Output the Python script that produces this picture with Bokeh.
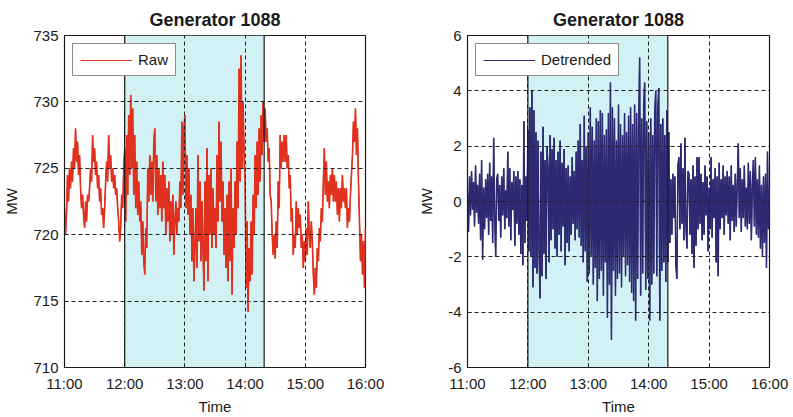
from bokeh.plotting import figure
from bokeh.layouts import row
from bokeh.models import Range1d, FixedTicker, Span, Legend, LegendItem
from bokeh.embed import file_html
from bokeh.resources import INLINE

# ---------------- data ----------------
title_text = "Generator 1088"
minutes = list(range(0, 301))          # minutes after 11:00, one sample per minute
tick_minutes = [0, 60, 120, 180, 240, 300]
tick_labels = ["11:00", "12:00", "13:00", "14:00", "15:00", "16:00"]
shade_start = 60                        # 12:00
shade_end = 199                         # ~14:19

raw_mw = [
    722, 720, 721.5, 724.5, 722.5, 725, 723.5, 725.5, 724, 726.5,
    725, 728, 725.5, 727, 724.5, 726, 723.5, 722, 723, 721.5,
    720.5, 722.5, 721, 723, 722.5, 723.5, 725, 724, 727.5, 725.5,
    726.5, 724.5, 725.5, 723.5, 724.5, 722.5, 723.5, 721.5, 722, 720.5,
    722, 724, 725.5, 724, 727.5, 725, 726, 724, 725, 723.5,
    724.5, 723, 723.5, 722, 721, 719.5, 720.5, 723, 722, 725,
    726.5, 721, 727.5, 723, 729, 724.5, 730.5, 725, 729.5, 723,
    727.5, 722, 725.5, 721.5, 724, 721, 722.5, 718.5, 721, 718,
    717, 720.5, 719, 725, 722.5, 726, 723, 725.5, 722.5, 727,
    728, 722.5, 726, 721.5, 725, 722, 724.5, 721, 725.5, 722,
    724.5, 720, 723.5, 721, 724, 719.5, 722.5, 720, 723, 718.5,
    721, 722.5, 720, 722, 721, 724, 722, 728.5, 723, 728,
    729, 722, 726, 721.5, 725, 720, 723, 718, 722, 716.5,
    719, 722, 717.5, 726, 719.5, 724, 718, 722.5, 719, 715.8,
    724, 718, 726.5, 716.5, 724.5, 720, 725, 719, 723.5, 720,
    722, 719, 726, 721, 728.5, 722.5, 727, 721, 724, 718.5,
    722, 717.5, 723, 716.5, 724, 718, 725, 715.5, 722, 719,
    724, 720, 727, 722, 732.5, 724, 733.5, 725, 730, 726,
    724, 716, 721, 714.2, 719, 716.5, 721, 717, 723, 720,
    726, 722, 727, 723, 728, 724, 729, 726, 730, 727,
    729.5, 727, 728, 725.5, 726.5, 723, 722.5, 720, 718.5, 720,
    718.2, 721, 719, 724, 722, 727.5, 725, 727, 725.5, 727.5,
    725.5, 727.5, 725, 726, 723.5, 724.5, 721, 722, 718.5, 720,
    719, 722.5, 720, 722, 720.5, 721.5, 719, 720, 717.5, 719.5,
    718, 720.5, 718.5, 722.5, 720, 719, 721, 719.5, 717, 715.5,
    717.5, 716, 719, 718, 720.5, 719.5, 722, 721, 724, 726.5,
    723, 725.5, 722.5, 724, 722, 724.5, 723, 725, 722.5, 724.5,
    722.5, 724, 721.5, 723.5, 721, 723.5, 722, 724.5, 722.5, 723.5,
    722, 723.5, 720.5, 722, 721, 723, 724.5, 726, 728.5, 727,
    729.5, 726, 728, 724, 721, 718, 720, 717, 719.5, 716, 720.5,
]

detrended_mw = [
    0.3, -1.1, 0.9, -0.5, 1.1, -0.3, 0.7, -0.9, 1.3, -0.4,
    0.6, -0.8, 1.0, -1.4, 1.5, -2.1, 0.5, -1.0, 0.8, -0.6,
    1.0, -1.2, 1.4, -0.7, 0.9, -1.5, 2.3, -0.5, -2.0, 0.8,
    1.0, -0.7, 0.6, -1.3, 0.9, -0.5, 1.2, -1.0, 0.4, -0.6,
    1.8, -0.9, 1.2, -1.4, 0.7, -0.3, 1.1, -1.6, 0.9, -0.8,
    1.1, -1.2, 0.8, -1.9, 0.6, -2.3, 2.9, -1.5, 0.9, -0.7,
    2.6, -1.8, 3.4, -2.0, 4.0, -3.1, 3.3, -2.4, 2.5, -2.6,
    2.2, -1.6, -3.5, 1.8, -2.7, 2.7, -1.9, 1.5, -2.8, 2.0,
    1.2, -2.2, 2.4, -1.4, 1.9, -1.0, 2.3, -1.7, 1.5, -2.0,
    1.8, -1.2, 2.2, -1.8, 1.4, -0.9, 1.9, -2.3, 1.2, -1.5,
    1.3, -1.8, 0.9, -1.2, 1.6, -0.8, 1.1, -1.4, 1.8, -1.0,
    2.2, -1.3, 2.8, -1.6, 1.5, -2.2, 3.1, -1.8, 2.0, -2.9,
    2.5, -2.6, 3.4, -2.0, 2.7, -3.0, 2.2, -2.4, 3.0, -3.6,
    2.9, -2.8, 3.3, -2.5, 3.2, -3.4, 2.4, -2.2, 2.6, -4.2,
    3.2, -3.0, 4.3, -5.0, 3.4, -2.5, 3.0, -3.4, 2.2, -2.8,
    3.5, -2.6, 2.8, -3.1, 2.4, -2.0, 3.2, -2.7, 2.5, -2.3,
    3.1, -2.9, 3.4, -3.3, 2.8, -3.6, 3.5, -4.3, 3.2, -2.8,
    2.6, 5.2, -3.4, 3.0, -2.6, 3.5, 4.3, -3.2, 2.9, -2.8,
    2.5, -4.3, 3.0, -3.0, 2.4, -2.6, 3.2, 4.0, -2.7, 3.3,
    4.1, -4.3, 2.8, -2.5, 3.0, -2.2, 2.4, -2.9, 3.3, -2.2,
    2.5, -1.5, 0.8, -1.2, 1.0, -0.6, 0.9, -2.3, -2.8, 1.3,
    1.6, -1.0, 2.1, -0.8, 1.2, -1.4, 2.3, -0.9, -1.7, 1.1,
    1.0, -1.2, 0.8, -1.9, 1.3, -2.4, 0.9, -1.6, 1.6, -1.0,
    1.6, -0.8, 1.0, -1.4, 0.7, -1.2, 1.3, -0.5, 0.9, -1.8,
    0.5, -1.0, 1.6, -1.3, 0.8, -0.6, 1.2, -2.2, 0.9, -2.7,
    1.4, -1.0, 0.8, -0.6, 1.3, -1.2, 0.9, -0.5, 1.1, -0.8,
    0.9, -1.4, 1.3, -0.7, 0.6, -1.1, 1.0, -0.9, 0.7, 2.1,
    -0.6, 1.2, -1.1, 0.8, -0.6, 1.3, -0.9, 0.5, -1.0, 1.4,
    -0.8, 1.1, -1.4, 0.6, 1.5, -0.9, 1.6, -1.2, 0.8, -1.3,
    1.3, -1.7, 0.6, -2.0, 0.9, -1.5, 1.0, -2.4, 1.8, -1.0, 0.5,
]

raw_yticks = [710, 715, 720, 725, 730, 735]
det_yticks = [-6, -4, -2, 0, 2, 4, 6]

FONT = "Liberation Sans"
SHADE = "#d2f1f4"
INK = "#1a1a1a"


def make_panel(yvals, yrange, yticks, color, lw, label, width, left, right):
    p = figure(width=width, height=417, output_backend="svg", toolbar_location=None,
               x_range=Range1d(0, 300), y_range=Range1d(*yrange),
               min_border_left=left, min_border_right=right,
               min_border_top=35, min_border_bottom=50,
               title=title_text)
    p.title.text_font = FONT
    p.title.text_font_size = "18px"
    p.title.text_font_style = "bold"
    p.title.align = "center"
    p.title.text_color = INK
    p.title.standoff = 12

    p.background_fill_color = "white"
    p.border_fill_color = "white"
    p.outline_line_color = INK
    p.outline_line_width = 1.2

    # shaded interval 12:00 .. ~14:19
    p.quad(left=[shade_start], right=[shade_end], bottom=[yrange[0]], top=[yrange[1]],
           fill_color=SHADE, line_color=None, level="underlay")

    # thin copy of the series used as the legend sample (hidden under the main trace)
    key = p.line(minutes, yvals, line_color=color, line_width=1.0)
    p.line(minutes, yvals, line_color=color, line_width=lw)

    for loc in (shade_start, shade_end):
        p.add_layout(Span(location=loc, dimension="height", line_color=INK,
                          line_width=1.2, level="overlay"))

    p.xaxis.ticker = FixedTicker(ticks=tick_minutes)
    p.xaxis.major_label_overrides = {m: s for m, s in zip(tick_minutes, tick_labels)}
    p.yaxis.ticker = FixedTicker(ticks=yticks)
    p.yaxis.major_label_overrides = {t: str(t) for t in yticks}

    for ax in (p.xaxis[0], p.yaxis[0]):
        ax.axis_line_color = INK
        ax.major_tick_line_color = INK
        ax.major_tick_in = 4
        ax.major_tick_out = 0
        ax.minor_tick_line_color = None
        ax.major_label_text_font = FONT
        ax.major_label_text_font_size = "15px"
        ax.major_label_text_color = INK
        ax.axis_label_text_font = FONT
        ax.axis_label_text_font_size = "15px"
        ax.axis_label_text_font_style = "normal"
        ax.axis_label_text_color = INK
    p.xaxis.axis_label = "Time"
    p.yaxis.axis_label = "MW"
    p.xaxis.major_label_standoff = 7
    p.xaxis.axis_label_standoff = 3
    p.yaxis.major_label_standoff = 6
    p.yaxis.axis_label_standoff = 10

    for g in (p.xgrid[0], p.ygrid[0]):
        g.grid_line_color = "#222222"
        g.grid_line_dash = "4 3"
        g.grid_line_width = 1
        g.level = "overlay"
    p.xgrid.ticker = FixedTicker(ticks=tick_minutes[1:-1])
    p.ygrid.ticker = FixedTicker(ticks=yticks[1:-1])

    legend = Legend(items=[LegendItem(label=label, renderers=[key])],
                    location="top_left", margin=8, padding=7,
                    glyph_width=52, glyph_height=16, label_height=16,
                    label_standoff=6,
                    label_text_font=FONT, label_text_font_size="15px",
                    label_text_color=INK,
                    border_line_color=INK, border_line_width=1.2,
                    background_fill_color="white", background_fill_alpha=1.0)
    p.add_layout(legend)
    return p


p1 = make_panel(raw_mw, (710, 735), raw_yticks, "#e0301e", 1.6, "Raw", 400, 63, 35)
p2 = make_panel(detrended_mw, (-6, 6), det_yticks, "#2d2a73", 1.5, "Detrended", 393, 67, 24)

layout = row(p1, p2)
open("out.html", "w").write(file_html(layout, INLINE))
